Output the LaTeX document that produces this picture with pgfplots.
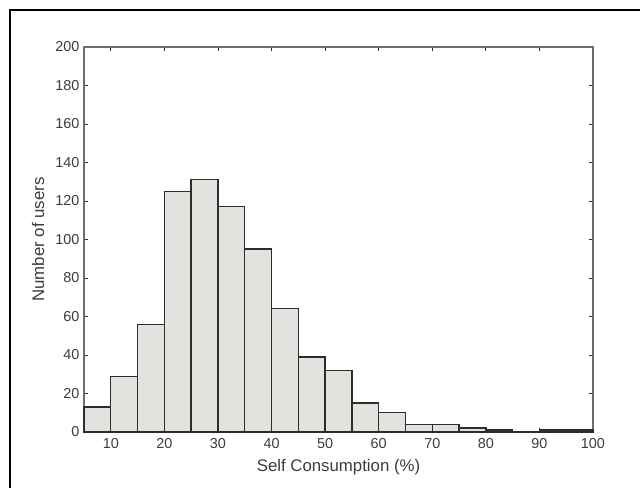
\documentclass[border=0pt]{standalone}
\usepackage{pgfplots}
\pgfplotsset{compat=1.18}
\usepackage{fontspec}
\setmainfont{Liberation Sans}
\definecolor{barfill}{RGB}{227,226,222}
\definecolor{baredge}{RGB}{45,45,45}
\definecolor{axgray}{RGB}{110,110,110}
\definecolor{txtgray}{RGB}{60,60,60}
\begin{document}
\begin{tikzpicture}
\begin{axis}[
  scale only axis,
  width=381.75pt, height=288.75pt,
  xmin=5, xmax=100, ymin=0, ymax=200,
  xtick={10,20,...,100},
  ytick={0,20,...,200},
  tick align=inside,
  major tick length=3pt,
  axis line style={axgray, line width=0.9pt},
  every tick/.style={baredge, line width=0.6pt},
  tick label style={font=\fontsize{10.8}{13}\selectfont, text=txtgray},
  /pgf/number format/assume math mode=true,
  xlabel={Self Consumption (\%)},
  ylabel={Number of users},
  label style={font=\fontsize{12.6}{15}\selectfont, text=txtgray},
  xlabel style={at={(axis description cs:0.5,-0.091)}, anchor=center},
  ylabel style={at={(axis description cs:-0.09,0.5)}, anchor=center},
  xticklabel style={yshift=-1.5pt},
  clip=false,
]
\addplot[ybar interval, fill=barfill, draw=baredge, line width=1pt] coordinates {
(5,13) (10,29) (15,56) (20,125) (25,131) (30,117) (35,95) (40,64) (45,39) (50,32)
(55,15) (60,10) (65,4) (70,4) (75,2) (80,1) (85,0) (90,1) (95,1) (100,1)
};
\end{axis}
\draw[line width=1.5pt] (-55.5pt,-60pt) -- (-55.5pt,316.5pt) -- (440pt,316.5pt);
\pgfresetboundingbox
\useasboundingbox (-63pt,-42pt) rectangle (417pt,324pt);
\end{tikzpicture}
\end{document}
